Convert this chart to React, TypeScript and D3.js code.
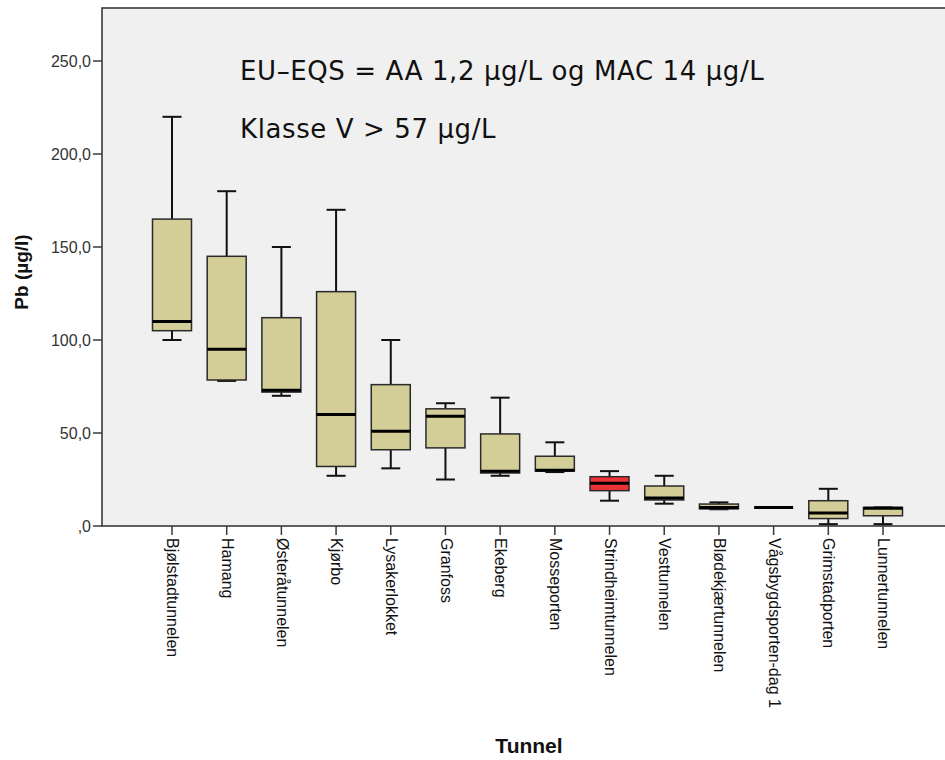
import React from "react";
import * as d3 from "d3";

const categories = [
  "Bjølstadtunnelen", "Hamang", "Østeråtunnelen", "Kjørbo", "Lysakerlokket",
  "Granfoss", "Ekeberg", "Mosseporten", "Strindheimtunnelen", "Vesttunnelen",
  "Blødekjærtunnelen", "Vågsbygdsporten-dag 1", "Grimstadporten", "Lunnertunnelen",
];
const mins = [100, 78, 70, 27, 31, 25, 27, 29, 13.6, 12, 9, 10, 1, 1];
const q1s = [105, 78.5, 72, 32, 41, 42, 28.5, 29.5, 19, 14, 9.2, 10, 4, 5.5];
const medians = [110, 95, 73, 60, 51, 59, 29.5, 30, 23, 15, 10, 10, 7, 9.5];
const q3s = [165, 145, 112, 126, 76, 63, 49.5, 37.5, 26.5, 21.5, 11.8, 10, 13.6, 10];
const maxs = [220, 180, 150, 170, 100, 66, 69, 45, 29.5, 27, 12.7, 10, 20, 10];
const highlighted = ["Strindheimtunnelen"];
const yTicks = [0, 50, 100, 150, 200, 250];
const yTickLabels = [",0", "50,0", "100,0", "150,0", "200,0", "250,0"];
const annotations = ["EU–EQS = AA 1,2 µg/L og MAC 14 µg/L", "Klasse V > 57 µg/L"];
const yTitle = "Pb (µg/l)";
const xTitle = "Tunnel";

const W = 945, H = 760;
const plot = { left: 102, top: 8, right: 960, bottom: 526 };

export default function App() {
  const x = d3.scalePoint<string>().domain(categories).range([172, 883]);
  const y = d3.scaleLinear().domain([0, 278.5]).range([plot.bottom, plot.top]);
  const boxW = 39;
  const capW = 19;
  const font = "Arial, 'Liberation Sans', sans-serif";

  return (
    <svg width={W} height={H} style={{ position: "absolute", left: 0, top: 0, background: "#fff" }}>
      <rect x={plot.left} y={plot.top} width={plot.right - plot.left} height={plot.bottom - plot.top}
        fill="#f0f0f0" stroke="#3a3a3a" strokeWidth={1.6} />

      {annotations.map((t, i) => (
        <text key={t} x={240} y={80 + i * 58} fontFamily="'DejaVu Sans', sans-serif" fontSize={26}
          letterSpacing={0.6} fill="#111">{t}</text>
      ))}

      {categories.map((c, i) => {
        const cx = x(c)!;
        const fill = highlighted.includes(c) ? "#ee3338" : "#d3ce97";
        return (
          <g key={c}>
            <line x1={cx} x2={cx} y1={y(q3s[i])} y2={y(maxs[i])} stroke="#111" strokeWidth={2} />
            <line x1={cx} x2={cx} y1={y(q1s[i])} y2={y(mins[i])} stroke="#111" strokeWidth={2} />
            <line x1={cx - capW / 2} x2={cx + capW / 2} y1={y(maxs[i])} y2={y(maxs[i])} stroke="#111" strokeWidth={2} />
            <line x1={cx - capW / 2} x2={cx + capW / 2} y1={y(mins[i])} y2={y(mins[i])} stroke="#111" strokeWidth={2} />
            <rect x={cx - boxW / 2} y={y(q3s[i])} width={boxW} height={Math.max(0, y(q1s[i]) - y(q3s[i]))}
              fill={fill} stroke="#2a2a2a" strokeWidth={1.5} />
            <line x1={cx - boxW / 2} x2={cx + boxW / 2} y1={y(medians[i])} y2={y(medians[i])} stroke="#000" strokeWidth={3} />
          </g>
        );
      })}

      {yTicks.map((v, i) => (
        <g key={v}>
          <line x1={93} x2={plot.left} y1={y(v)} y2={y(v)} stroke="#3a3a3a" strokeWidth={1.5} />
          <text x={91} y={y(v)} dy="0.35em" textAnchor="end" fontFamily={font} fontSize={16} fill="#333">{yTickLabels[i]}</text>
        </g>
      ))}

      {categories.map((c) => {
        const cx = x(c)!;
        return (
          <g key={"t" + c}>
            <line x1={cx} x2={cx} y1={plot.bottom} y2={plot.bottom + 9} stroke="#3a3a3a" strokeWidth={1.5} />
            <text transform={`translate(${cx},${538}) rotate(90)`} dy="0.3em" fontFamily={font} fontSize={16} fill="#111">{c}</text>
          </g>
        );
      })}

      <text transform={`translate(28,${272}) rotate(-90)`} textAnchor="middle" fontFamily={font} fontWeight="bold" fontSize={19} fill="#111">{yTitle}</text>
      <text x={529} y={753} textAnchor="middle" fontFamily={font} fontWeight="bold" fontSize={21} fill="#111">{xTitle}</text>
    </svg>
  );
}
